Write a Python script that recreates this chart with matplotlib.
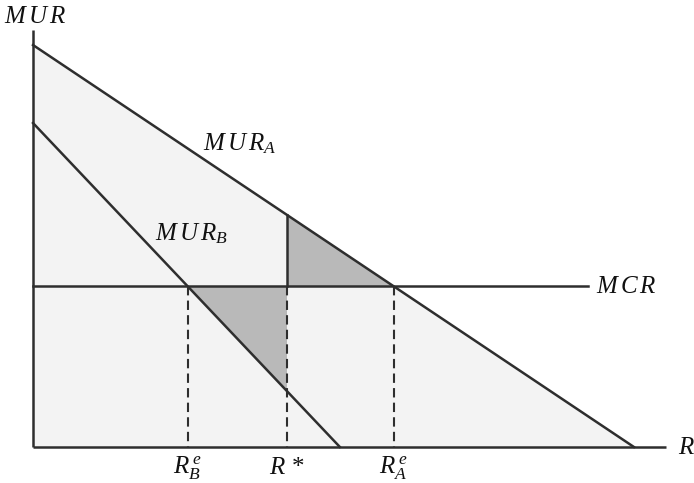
import matplotlib
matplotlib.use("Agg")
import matplotlib.pyplot as plt
import numpy as np

plt.rcParams['mathtext.fontset'] = 'custom'
plt.rcParams['mathtext.rm'] = 'Liberation Serif'
plt.rcParams['mathtext.it'] = 'Liberation Serif:italic'
plt.rcParams['mathtext.bf'] = 'Liberation Serif:italic:bold'

# Curves (MUR vs R)
mur_a_intercept, mur_a_zero = 10.0, 15.0
mur_b_intercept, mur_b_zero = 8.06, 7.66
mcr_level = 4.0
mcr_end = 13.85
r_star = 6.34
axis_x_end, axis_y_end = 15.8, 10.37

def mur_a(r):
    return mur_a_intercept * (1 - r / mur_a_zero)

def mur_b(r):
    return mur_b_intercept * (1 - r / mur_b_zero)

r_a_e = mur_a_zero * (1 - mcr_level / mur_a_intercept)
r_b_e = mur_b_zero * (1 - mcr_level / mur_b_intercept)

tick_positions = [r_b_e, r_star, r_a_e]
tick_labels = [r'$R^{\,e}_{B}$', r'$R\,*$', r'$R^{\,e}_{A}$']

fig = plt.figure(figsize=(6.94, 4.83), dpi=100)
ax = fig.add_axes([0, 0, 1, 1])
ax.set_xlim(-0.824, 16.5)
ax.set_ylim(-0.896, 11.12)
ax.axis('off')

lc = '#2e2e2e'
lw = 1.8

# light background fill under MUR_A
ax.fill([0, 0, mur_a_zero], [0, mur_a_intercept, 0], color='#f3f3f3', zorder=0, lw=0)

# shaded triangles
ax.fill([r_star, r_star, r_a_e], [mur_a(r_star), mcr_level, mcr_level],
        color='#b9b9b9', zorder=1, lw=0)
ax.fill([r_b_e, r_star, r_star], [mcr_level, mcr_level, mur_b(r_star)],
        color='#b9b9b9', zorder=1, lw=0)

# axes
ax.plot([0, 0], [0, axis_y_end], color=lc, lw=lw, solid_capstyle='butt', zorder=3)
ax.plot([0, axis_x_end], [0, 0], color=lc, lw=lw, solid_capstyle='butt', zorder=3)

# curves
ax.plot([0, mur_a_zero], [mur_a_intercept, 0], color=lc, lw=lw, zorder=3)
ax.plot([0, mur_b_zero], [mur_b_intercept, 0], color=lc, lw=lw, zorder=3)
ax.plot([0, mcr_end], [mcr_level, mcr_level], color=lc, lw=lw, zorder=3)
ax.plot([r_star, r_star], [mur_a(r_star), mcr_level], color=lc, lw=lw, zorder=3)

# dashed drop lines
for xv in tick_positions:
    ax.plot([xv, xv], [mcr_level, 0], color=lc, lw=1.5, ls=(0, (4.5, 2.5)), zorder=3)

fs = 18
tc = '#111111'
ax.text(-0.72, 10.42, r'$M\,U\,R$', fontsize=fs, ha='left', va='bottom', color=tc)
ax.text(4.25, 7.55, r'$M\,U\,R_{A}$', fontsize=fs, ha='left', va='center', color=tc)
ax.text(3.05, 5.3, r'$M\,U\,R_{B}$', fontsize=fs, ha='left', va='center', color=tc)
ax.text(14.05, mcr_level, r'$M\,C\,R$', fontsize=fs, ha='left', va='center', color=tc)
ax.text(16.1, 0, r'$R$', fontsize=fs, ha='left', va='center', color=tc)
for xv, lab in zip(tick_positions, tick_labels):
    ax.text(xv, -0.2, lab, fontsize=fs, ha='center', va='top', color=tc)

fig.savefig('out.png', dpi=100)
